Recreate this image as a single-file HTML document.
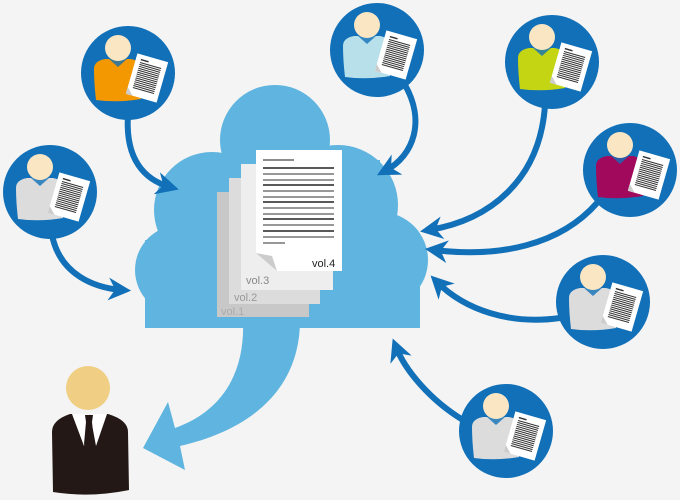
<!DOCTYPE html>
<html><head><meta charset="utf-8"><style>
html,body{margin:0;padding:0;background:#f4f4f4;}
svg{display:block;font-family:"Liberation Sans",sans-serif;}
</style></head><body>
<svg width="680" height="500" viewBox="0 0 680 500" xmlns="http://www.w3.org/2000/svg">
<defs>
<marker id="ah" viewBox="0 0 10 10" refX="6" refY="5" markerWidth="3.8" markerHeight="3.8" orient="auto-start-reverse" markerUnits="strokeWidth">
<path d="M0,0 L10,5 L0,10 L3,5 Z" fill="#1170b8"/>
</marker>
<g id="doc">
<rect x="-16" y="-21" width="32" height="42" fill="#fff"/>
<path d="M-16,14 L-9,21 L-16,21 Z" fill="#ccc"/>
<g stroke="#333" stroke-width="1">
<line x1="-11" y1="-16" x2="-3" y2="-16" stroke-width="1.5"/>
<line x1="-11" y1="-13" x2="11" y2="-13"/><line x1="-11" y1="-11" x2="11" y2="-11"/>
<line x1="-11" y1="-9" x2="11" y2="-9"/><line x1="-11" y1="-7" x2="11" y2="-7"/>
<line x1="-11" y1="-5" x2="11" y2="-5"/><line x1="-11" y1="-3" x2="11" y2="-3"/>
<line x1="-11" y1="-1" x2="11" y2="-1"/><line x1="-11" y1="1" x2="11" y2="1"/>
<line x1="-11" y1="3" x2="11" y2="3"/><line x1="-11" y1="5" x2="11" y2="5"/>
<line x1="-11" y1="7" x2="11" y2="7"/><line x1="-11" y1="9" x2="11" y2="9"/>
<line x1="-11" y1="11" x2="11" y2="11"/><line x1="-11" y1="13" x2="11" y2="13"/>
</g>
</g>
<g id="user">
<circle r="47" fill="#1170b8"/>
<path d="M-34,-4 Q-34,-12 -23,-14 L3,-14 Q13,-12 13,-4 L13,26 Q-10,30 -32,27 Q-34,10 -34,-4Z" fill="currentColor"/>
<path d="M-19,-14 L-10,-6 L-1,-14 Z" fill="#1170b8" opacity="0.8"/>
<circle cx="-10" cy="-25" r="13" fill="#fbe6c3"/>
<use href="#doc" transform="translate(19,5) rotate(16)"/>
</g>
</defs>

<!-- cloud tail -->
<path d="M243,320 C245,370 225,410 175,428 L168,402 L143,448 L185,470 L180,446 C250,430 300,390 300,320 Z" fill="#5fb5df"/>
<!-- cloud -->
<g fill="#5fb5df">
<circle cx="275" cy="140" r="55"/>
<circle cx="338" cy="205" r="60"/>
<circle cx="212" cy="210" r="58"/>
<circle cx="180" cy="270" r="45"/>
<circle cx="380" cy="260" r="48"/>
<rect x="145" y="240" width="275" height="88"/>
<rect x="200" y="160" width="180" height="120"/>
</g>

<!-- docs -->
<rect x="217" y="192" width="92" height="125" fill="#c8c8c8"/>
<text x="221" y="315" font-size="11" fill="#aaa">vol.1</text>
<rect x="229" y="178" width="91" height="126" fill="#dcdcdc"/>
<text x="234" y="301" font-size="11" fill="#999">vol.2</text>
<rect x="241" y="164" width="92" height="126" fill="#eeeeee"/>
<text x="246" y="284" font-size="11" fill="#888">vol.3</text>
<path d="M256,150 L342,150 L342,271 L277,271 L256,253 Z" fill="#fff"/>
<path d="M256,253 L272,256 L277,271 Z" fill="#ccc"/>
<g stroke-width="1.5">
<line x1="263" y1="160" x2="294" y2="160" stroke="#666"/>
<line x1="263" y1="168" x2="334" y2="168" stroke="#222"/>
<line x1="263" y1="174" x2="334" y2="174" stroke="#777"/>
<line x1="263" y1="180" x2="334" y2="180" stroke="#777"/>
<line x1="263" y1="185" x2="334" y2="185" stroke="#222"/>
<line x1="263" y1="191" x2="334" y2="191" stroke="#777"/>
<line x1="263" y1="197" x2="334" y2="197" stroke="#777"/>
<line x1="263" y1="202" x2="334" y2="202" stroke="#222"/>
<line x1="263" y1="208" x2="334" y2="208" stroke="#777"/>
<line x1="263" y1="214" x2="334" y2="214" stroke="#777"/>
<line x1="263" y1="219" x2="334" y2="219" stroke="#222"/>
<line x1="263" y1="225" x2="334" y2="225" stroke="#777"/>
<line x1="263" y1="231" x2="334" y2="231" stroke="#222"/>
<line x1="263" y1="237" x2="334" y2="237" stroke="#777"/>
<line x1="263" y1="243" x2="285" y2="243" stroke="#777"/>
</g>
<text x="312" y="267" font-size="11" fill="#222">vol.4</text>

<!-- arrows -->
<g fill="none" stroke="#1170b8" stroke-width="6" marker-end="url(#ah)">
<path d="M128,115 C125,160 145,180 170,187"/>
<path d="M52,235 C60,275 95,288 122,290"/>
<path d="M405,85 C425,120 415,155 385,171"/>
<path d="M545,105 C540,180 490,220 429,230"/>
<path d="M597,203 C560,245 500,258 434,250"/>
<path d="M560,318 C510,325 465,310 437,282"/>
<path d="M463,420 C430,400 405,370 396,347"/>
</g>

<!-- users -->
<use href="#user" x="128" y="73" style="color:#f39800"/>
<use href="#user" x="50" y="192" style="color:#dcdcdc"/>
<use href="#user" x="377" y="50" style="color:#b8e0ea"/>
<use href="#user" x="552" y="62" style="color:#c4d613"/>
<use href="#user" x="630" y="170" style="color:#a0095c"/>
<use href="#user" x="603" y="302" style="color:#dcdcdc"/>
<use href="#user" x="506" y="431" style="color:#dcdcdc"/>

<!-- boss -->
<path d="M52,432 Q52,420 70,414 L108,414 Q128,420 128,432 L129,490 Q90,498 53,492 Z" fill="#231815"/>
<path d="M72,414 L84,446 L90,414 Z M90,414 L96,446 L107,414 Z" fill="#fff"/>
<path d="M85,415 L93,415 L92,422 L94,444 L89,449 L84,444 L86,422 Z" fill="#231815"/>
<circle cx="88" cy="388" r="22" fill="#f0cf85"/>
</svg>
</body></html>
